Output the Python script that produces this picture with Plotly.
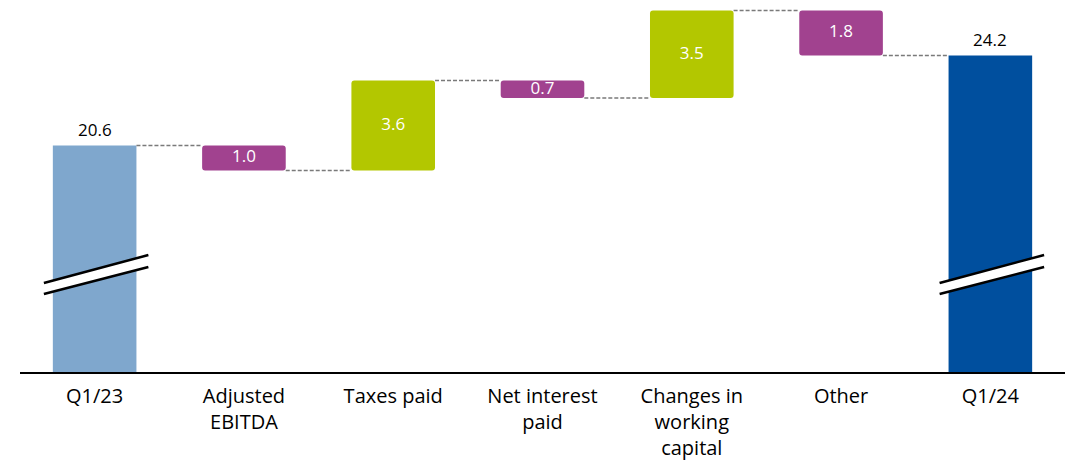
import plotly.graph_objects as go

# ---- data ----
categories = ["Q1/23", "Adjusted<br>EBITDA", "Taxes paid", "Net interest<br>paid",
              "Changes in<br>working<br>capital", "Other", "Q1/24"]
measures = ["total", "down", "up", "down", "up", "down", "total"]
values = [20.6, 1.0, 3.6, 0.7, 3.5, 1.8, 24.2]

# ---- style ----
C_START = "#7FA7CD"
C_END = "#004F9E"
C_UP = "#B3C700"
C_DOWN = "#A1428F"
FONT = "Open Sans"
BAR_W = 0.56
Y_RANGE = [11.54, 26.42]
X_RANGE = [-0.5, 6.5]

# compute bar geometry from data
bases, heights, colors, levels = [], [], [], []
level = 0.0
for i, (m, v) in enumerate(zip(measures, values)):
    if m == "total":
        base = Y_RANGE[0] - 5
        h = v - base
        level = v
        colors.append(C_START if i == 0 else C_END)
    elif m == "up":
        base = level
        h = v
        level = level + v
        colors.append(C_UP)
    else:
        base = level - v
        h = v
        level = level - v
        colors.append(C_DOWN)
    bases.append(base)
    heights.append(h)
    levels.append(level)

xs = list(range(len(categories)))
fig = go.Figure()

tot_idx = [i for i, m in enumerate(measures) if m == "total"]
del_idx = [i for i, m in enumerate(measures) if m != "total"]

fig.add_trace(go.Bar(
    x=[xs[i] for i in tot_idx], y=[heights[i] for i in tot_idx],
    base=[bases[i] for i in tot_idx], width=BAR_W,
    marker=dict(color=[colors[i] for i in tot_idx], line=dict(width=0)),
    hoverinfo="skip", showlegend=False))
fig.add_trace(go.Bar(
    x=[xs[i] for i in del_idx], y=[heights[i] for i in del_idx],
    base=[bases[i] for i in del_idx], width=BAR_W,
    marker=dict(color=[colors[i] for i in del_idx], line=dict(width=0), cornerradius=3),
    hoverinfo="skip", showlegend=False))

# connectors
for i in range(len(xs) - 1):
    fig.add_trace(go.Scatter(
        x=[xs[i] + BAR_W / 2, xs[i + 1] - BAR_W / 2], y=[levels[i], levels[i]],
        mode="lines", line=dict(color="#7a7a7a", width=1.4, dash="4px,2px"),
        hoverinfo="skip", showlegend=False))

# labels inside deltas
fig.add_trace(go.Scatter(
    x=[xs[i] for i in del_idx],
    y=[bases[i] + heights[i] / 2 for i in del_idx],
    text=[f"{values[i]:.1f}" for i in del_idx],
    mode="text", textposition="middle center",
    textfont=dict(family=FONT, size=17, color="white"),
    hoverinfo="skip", showlegend=False))

# labels above totals
annotations = []
for i in tot_idx:
    annotations.append(dict(x=xs[i], y=values[i], xref="x", yref="y",
                            text=f"{values[i]:.1f}", showarrow=False,
                            yanchor="bottom", yshift=3,
                            font=dict(family=FONT, size=17, color="black")))

# axis break marks on total bars
BRK_X = (-0.34, 0.36)
BRK_UP = (15.10, 16.22)
BRK_LO = (14.66, 15.74)
shapes = []
for i in tot_idx:
    x0, x1 = xs[i] + BRK_X[0], xs[i] + BRK_X[1]
    shapes.append(dict(type="path", xref="x", yref="y",
                       path=f"M {x0},{BRK_LO[0]} L {x1},{BRK_LO[1]} L {x1},{BRK_UP[1]} L {x0},{BRK_UP[0]} Z",
                       fillcolor="white", line=dict(width=0)))
    shapes.append(dict(type="line", xref="x", yref="y", x0=x0, y0=BRK_UP[0], x1=x1, y1=BRK_UP[1],
                       line=dict(color="black", width=2.5)))
    shapes.append(dict(type="line", xref="x", yref="y", x0=x0, y0=BRK_LO[0], x1=x1, y1=BRK_LO[1],
                       line=dict(color="black", width=2.5)))

fig.update_layout(
    width=1071, height=462,
    margin=dict(l=20, r=6, t=0, b=90, autoexpand=False),
    plot_bgcolor="white", paper_bgcolor="white",
    barmode="overlay", showlegend=False,
    shapes=shapes, annotations=annotations,
    font=dict(family=FONT, size=20, color="black"),
    xaxis=dict(range=X_RANGE, tickmode="array", tickvals=xs, ticktext=categories,
               automargin=False,
               showgrid=False, zeroline=False, showline=True, linecolor="black", linewidth=2,
               ticks="", ticklabelstandoff=5, tickfont=dict(family=FONT, size=20, color="black")),
    yaxis=dict(range=Y_RANGE, showgrid=False, zeroline=False, showline=False,
               showticklabels=False, ticks="", automargin=False),
)

fig.write_html("out.html", config={"displayModeBar": False},
               post_script="document.body.style.margin='0';")
